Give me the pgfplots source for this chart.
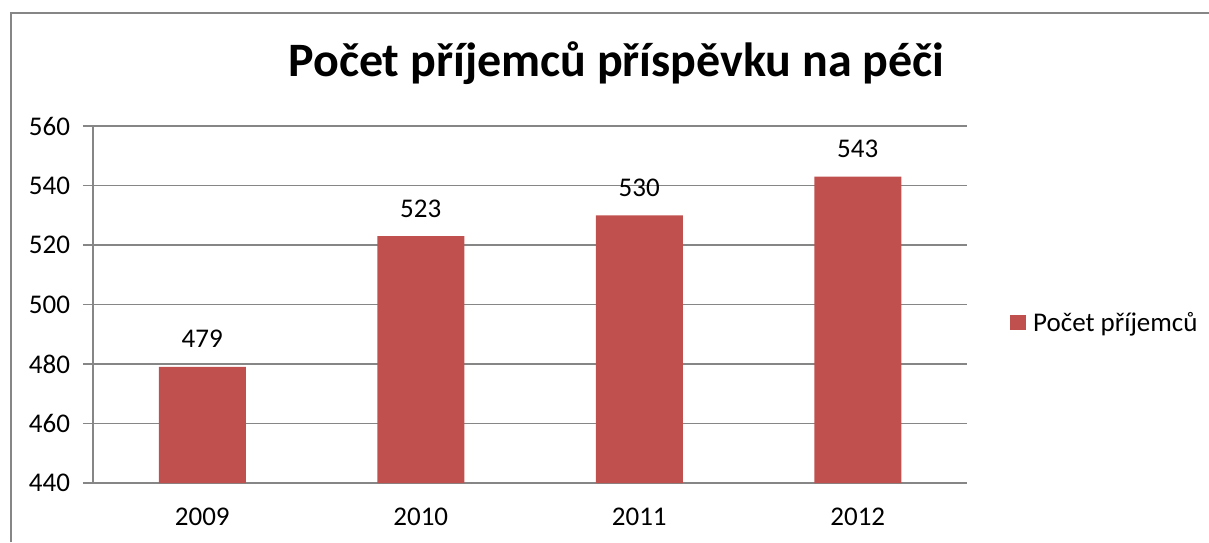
\documentclass[border=0pt]{standalone}
\usepackage{pgfplots}
\pgfplotsset{compat=1.18}
\usepackage{fontspec}
\setmainfont{Carlito}
\definecolor{barred}{HTML}{C0504D}
\definecolor{axgray}{HTML}{868686}
\begin{document}
\begin{tikzpicture}
\path[use as bounding box] (0,0) rectangle (604.5pt,-271pt);
\draw[axgray, line width=1.4pt] (5.5pt,-271pt) -- (5.5pt,-6.5pt) -- (604.5pt,-6.5pt);
\node[anchor=base, font=\fontsize{24pt}{28pt}\selectfont\bfseries] at (308.25pt,-38pt) {Počet příjemců příspěvku na péči};
\begin{axis}[
  scale only axis,
  width=437pt, height=178.5pt,
  at={(46.5pt,-241.5pt)}, anchor=south west,
  xmin=-0.5, xmax=3.5, ymin=440, ymax=560,
  ytick={440,460,...,560},
  xtick={0,1,2,3},
  xticklabels={2009,2010,2011,2012},
  axis lines*=left,
  axis line style={axgray, line width=0.6pt},
  ymajorgrids,
  grid style={axgray, line width=0.6pt},
  tick align=outside,
  major tick length=5pt,
  tick style={axgray, line width=0.6pt},
  x tick style={draw=none},
  extra x ticks={-0.5,0.5,1.5,2.5,3.5},
  extra x tick labels={},
  extra x tick style={tick style={axgray, line width=0.6pt, draw=axgray}, major tick length=3pt},
  /pgf/number format/assume math mode=true,
  ticklabel style={font=\fontsize{13.5pt}{15pt}\selectfont, text=black},
  yticklabel style={xshift=-3pt},
  xticklabel style={yshift=-4pt},
  ybar, bar width=43.5pt,
  nodes near coords,
  nodes near coords style={font=\fontsize{13.5pt}{15pt}\selectfont, anchor=base, yshift=9.5pt, text=black},
  legend style={at={(1.049,0.448)}, anchor=west, draw=none, fill=none,
    font=\fontsize{13.5pt}{15pt}\selectfont, inner sep=0pt, row sep=0pt},
  legend image code/.code={\fill[barred] (0pt,-3.5pt) rectangle (8pt,4pt); \path (9.5pt,0pt);},
]
\addplot[fill=barred, draw=none] coordinates {(0,479) (1,523) (2,530) (3,543)};
\addlegendentry{Počet příjemců}
\end{axis}
\end{tikzpicture}
\end{document}
